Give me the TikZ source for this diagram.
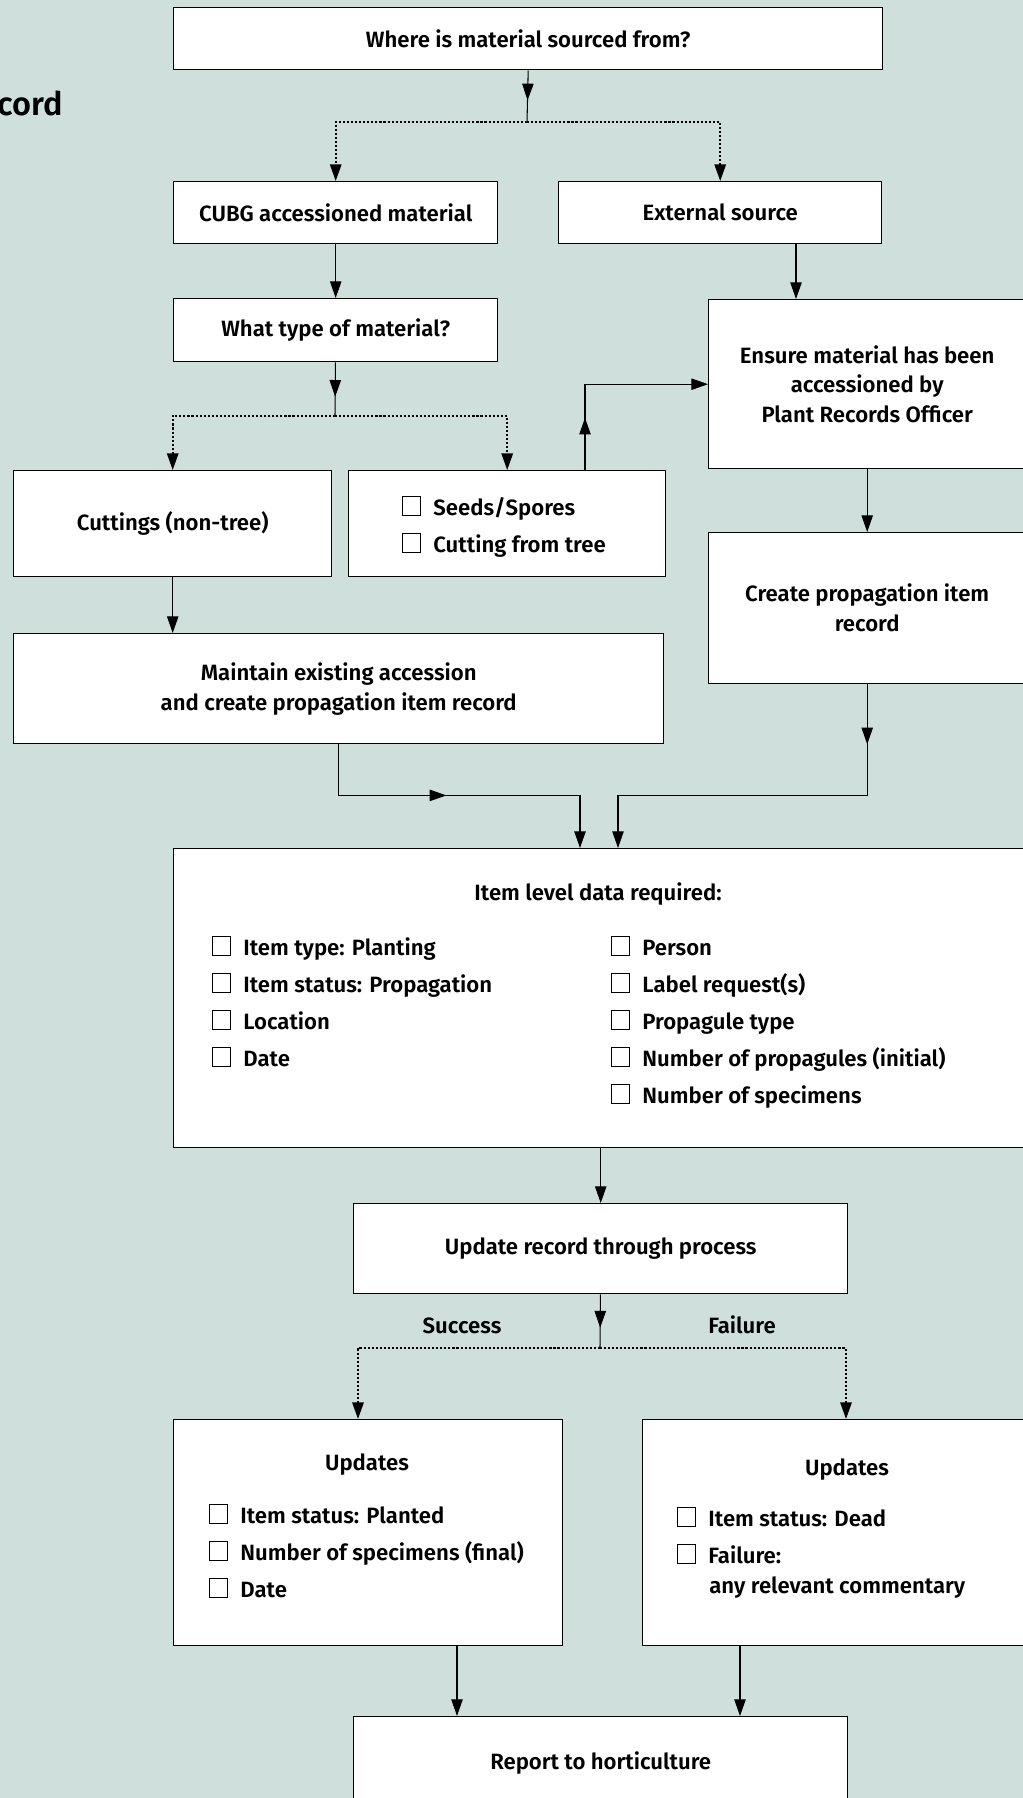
\documentclass[tikz,border=0pt]{standalone}
\usepackage{fontspec}
\setmainfont{Fira Sans}[UprightFont={* SemiBold}]
\usetikzlibrary{arrows.meta,decorations.markings}
\definecolor{sage}{HTML}{CFE0DC}
\newcommand{\tick}{{\setlength{\fboxsep}{0pt}\setlength{\fboxrule}{0.5pt}\fbox{\rule{0pt}{10.2pt}\hspace{9.7pt}}}\hspace{7pt}}
\begin{document}
\begin{tikzpicture}[x=0.02cm,y=-0.02cm,font=\fontsize{12.6}{17}\selectfont,
    box/.style={draw,line width=0.8pt,fill=white,anchor=north west,align=center,inner sep=0pt},
    sz/.style 2 args={minimum width=#1*0.02cm,minimum height=#2*0.02cm},
    arr/.style={-{Triangle[length=9.5pt,width=6.5pt]},line width=0.6pt},
    dot/.style={arr,line width=1pt,dash pattern=on 1.2pt off 1.1pt},
    midarrow/.style={line width=0.6pt,postaction={decorate},
      decoration={markings,mark=at position #1 with {\arrow{Triangle[length=9.5pt,width=6.5pt]}}}},
    lbl/.style={anchor=base west,inner sep=0pt}]
  \useasboundingbox (0,0) rectangle (1023,1798);
  \fill[sage] (0,0) rectangle (1023,1798);
  \begin{scope}
    \clip (0,0) rectangle (1023,1798);
    \node[anchor=base east,inner sep=0pt,font=\fontsize{18.5}{22}\selectfont] (ttl) at (63,115) {cord};
    % boxes
    \node[box,sz={709}{62}] (src) at (173,7) {Where is material sourced from?};
    \node[box,sz={324}{62}] (cubg) at (173,181) {CUBG accessioned material};
    \node[box,sz={323}{62}] (ext) at (558,181) {External source};
    \node[box,sz={324}{63}] (what) at (173,298) {What type of material?};
    \node[box,sz={317}{169}] (ensure) at (708,299) {Ensure material has been\\accessioned by\\Plant Records Officer};
    \node[box,sz={318}{106}] (cut) at (13,470) {Cuttings (non-tree)};
    \node[box,sz={317}{106}] (seeds) at (348,470) {};
    \node[lbl] (s1) at (402,515) {\tick Seeds/Spores};
    \node[lbl] (s2) at (402,552) {\tick Cutting from tree};
    \node[box,sz={317}{151}] (create) at (708,532) {Create propagation item\\record};
    \node[box,sz={650}{110}] (maint) at (13,633) {Maintain existing accession\\and create propagation item record};
    \node[box,sz={852}{299}] (item) at (173,848) {};
    \node[anchor=base] (itemt) at (598,900) {Item level data required:};
    \foreach \t [count=\i] in {Item type: Planting,Item status: Propagation,Location,Date}
      \node[lbl] (il\i) at (212,918+37*\i) {\tick \t};
    \foreach \t [count=\i] in {Person,Label request(s),Propagule type,Number of propagules (initial),Number of specimens}
      \node[lbl] (ir\i) at (611,918+37*\i) {\tick \t};
    \node[box,sz={494}{90}] (upd) at (353,1203) {Update record through process};
    \node[anchor=base] (succ) at (462,1333) {Success};
    \node[anchor=base] (fail) at (742,1333) {Failure};
    \node[box,sz={389}{226}] (lupd) at (173,1419) {};
    \node[anchor=base] (lupdt) at (367,1470) {Updates};
    \foreach \t [count=\i] in {Item status: Planted,Number of specimens (final),Date}
      \node[lbl] (lu\i) at (209,1486+37*\i) {\tick \t};
    \node[box,sz={383}{226}] (rupd) at (642,1419) {};
    \node[anchor=base] (rupdt) at (847,1475) {Updates};
    \node[lbl] (ru1) at (677,1526) {\tick Item status: Dead};
    \node[lbl] (ru2) at (677,1563) {\tick Failure:};
    \node[lbl] (ru3) at (709,1593) {any relevant commentary};
    \node[box,sz={494}{92}] (rep) at (353,1716) {Report to horticulture};
    % connectors
    \coordinate (jn1) at (527,122);
    \coordinate (jn2) at (335,416);
    \coordinate (jn3) at (600,1348);
    \coordinate (xe) at (796,0);
    \coordinate (xs) at (585,0);
    \coordinate (xl) at (580,0);
    \coordinate (xr) at (618,0);
    \coordinate (xa) at (358,0);
    \coordinate (xb) at (846,0);
    \coordinate (xc) at (457,0);
    \coordinate (xd) at (740,0);
    \draw[midarrow=0.58] (src.south) -- (jn1);
    \draw[dot] (jn1) -| (cubg.north);
    \draw[dot] (jn1) -| (ext.north);
    \draw[arr] (cubg) -- (what);
    \draw[arr] (ext.south -| xe) -- (ensure.north -| xe);
    \draw[midarrow=0.64] (what) -- (jn2);
    \draw[dot] (jn2) -| (cut.north);
    \draw[dot] (jn2) -| (seeds.north);
    \draw[arr,midarrow=0.25] (seeds.north -| xs) |- (ensure.west);
    \draw[arr] (ensure) -- (create);
    \draw[arr] (cut.south) -- (cut.south |- maint.north);
    \draw[arr,midarrow=0.46] (maint.south) -- ++(0,51) -| (item.north -| xl);
    \draw[arr,midarrow=0.145] (create.south) -- ++(0,111) -| (item.north -| xr);
    \draw[arr] (upd.north |- item.south) -- (upd.north);
    \draw[midarrow=0.62] (upd) -- (jn3);
    \draw[dot] (jn3) -| (lupd.north -| xa);
    \draw[dot] (jn3) -| (rupd.north -| xb);
    \draw[arr] (lupd.south -| xc) -- (rep.north -| xc);
    \draw[arr] (rupd.south -| xd) -- (rep.north -| xd);
  \end{scope}
\end{tikzpicture}
\end{document}
